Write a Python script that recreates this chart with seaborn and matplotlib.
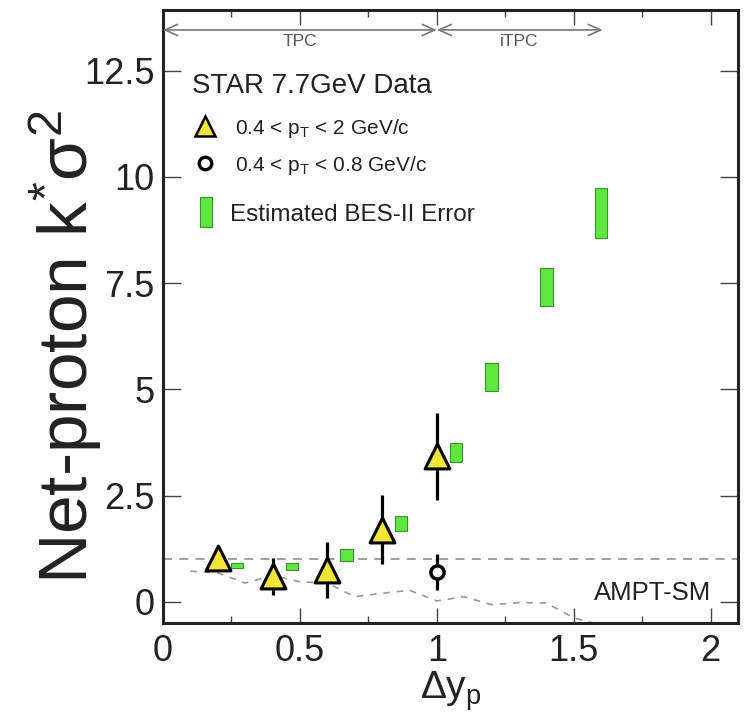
import matplotlib
matplotlib.use("Agg")
import matplotlib.pyplot as plt
import seaborn as sns
from matplotlib.lines import Line2D
from matplotlib.path import Path

# STAR 7.7 GeV net-proton kappa*sigma^2 vs rapidity window
dy = [0.2, 0.4, 0.6, 0.8, 1.0]
k_sig2 = [1.02, 0.60, 0.75, 1.70, 3.42]
k_err = [0.18, 0.43, 0.65, 0.82, 1.02]

# low-pT selection (only at dy = 1)
dy_low = [1.0]
k_low = [0.70]
k_low_err = [0.43]

# estimated BES-II errors
bes_x = [0.27, 0.47, 0.67, 0.87, 1.07, 1.2, 1.4, 1.6]
bes_y = [0.85, 0.83, 1.10, 1.85, 3.52, 5.28, 7.41, 9.16]
bes_err = [0.06, 0.09, 0.14, 0.18, 0.22, 0.33, 0.44, 0.59]

# AMPT-SM curve
ampt_x = [0.1, 0.2, 0.3, 0.4, 0.5, 0.6, 0.7, 0.8, 0.9, 1.0, 1.1, 1.2, 1.3, 1.4, 1.5, 1.6]
ampt_y = [0.72, 0.68, 0.44, 0.62, 0.47, 0.44, 0.12, 0.20, 0.27, 0.02, 0.12, -0.07, -0.02, -0.03, -0.38, -0.55]

xticks = [0, 0.5, 1, 1.5, 2]
xtick_labels = ["0", "0.5", "1", "1.5", "2"]
yticks = [0, 2.5, 5, 7.5, 10, 12.5]
ytick_labels = ["0", "2.5", "5", "7.5", "10", "12.5"]

sns.set_style("ticks")
plt.rcParams["font.family"] = ["Liberation Sans", "DejaVu Sans"]
plt.rcParams["mathtext.fontset"] = "custom"
plt.rcParams["mathtext.rm"] = "Liberation Sans"
plt.rcParams["mathtext.default"] = "regular"

yellow = "#f2e535"
green = "#5ee83e"
ink = "#222222"

fig = plt.figure(figsize=(7.46, 7.25), dpi=100)
ax = fig.add_axes([0.2185, 0.1407, 0.7708, 0.8455])

# reference line at 1 and AMPT
ax.axhline(1, color="#999999", ls="--", lw=1.3, dashes=(5, 4), zorder=1)
sns.lineplot(x=ampt_x, y=ampt_y, ax=ax, color="#999999", lw=1.2,
             linestyle="--", sort=False, zorder=1)
ax.lines[-1].set_dashes((4, 4))

# BES-II boxes
ax.bar(bes_x, [2 * e for e in bes_err], bottom=[y - e for y, e in zip(bes_y, bes_err)],
       width=0.045, color=green, edgecolor="#3c8f30", linewidth=0.8, zorder=2)

# error bars then markers
ax.errorbar(dy, k_sig2, yerr=k_err, fmt="none", ecolor="black", elinewidth=2.3, capsize=0, zorder=3)
ax.errorbar(dy_low, k_low, yerr=k_low_err, fmt="none", ecolor="black", elinewidth=2.3, capsize=0, zorder=3)
sns.scatterplot(x=dy, y=k_sig2, ax=ax, marker="^", s=320, color=yellow,
                edgecolor="black", linewidth=2.2, zorder=5)
sns.scatterplot(x=dy_low, y=k_low, ax=ax, marker="o", s=90, color="white",
                edgecolor="black", linewidth=2.5, zorder=5)

ax.set_xlim(0, 2.1)
ax.set_ylim(-0.5, 13.93)
ax.set_xticks(xticks)
ax.set_xticklabels(xtick_labels)
ax.set_xticks([0.25, 0.75, 1.25, 1.75], minor=True)
ax.set_yticks(yticks)
ax.set_yticklabels(ytick_labels)

for s in ax.spines.values():
    s.set_linewidth(2.2)
    s.set_color(ink)
ax.tick_params(which="both", direction="in", top=True, right=True, color="#444444",
               width=1.0, labelcolor=ink, labelsize=26)
ax.tick_params(axis="x", which="major", length=10.5, pad=8)
ax.tick_params(axis="x", which="minor", length=5)
ax.tick_params(axis="y", which="major", length=13, pad=6)

ax.set_ylabel("Net-proton k$^{*}$σ$^{2}$", fontsize=50, color=ink, va="center")
ax.yaxis.set_label_coords(-0.17, 0.45)
ax.set_xlabel("Δy$_{p}$", fontsize=28, color=ink, labelpad=0)

# TPC / iTPC acceptance arrows
arrow = dict(arrowstyle="<->,head_length=0.9,head_width=0.4", color="#777777", lw=1.2,
             shrinkA=0, shrinkB=0)
ax.annotate("", xy=(0, 13.46), xytext=(1, 13.46), arrowprops=arrow)
ax.annotate("", xy=(1, 13.46), xytext=(1.606, 13.46), arrowprops=arrow)
ax.text(0.5, 13.2, "TPC", ha="center", va="center", fontsize=12.5, color="#555555")
ax.text(1.3, 13.2, "iTPC", ha="center", va="center", fontsize=12.5, color="#555555")

ax.text(0.106, 12.14, "STAR 7.7GeV Data", ha="left", va="center", fontsize=20, color=ink)
ax.text(2.003, 0.21, "AMPT-SM", ha="right", va="center", fontsize=18.5, color=ink)

# legends
h_tri = Line2D([], [], ls="none", marker="^", ms=14, mfc=yellow, mec="black", mew=1.8)
h_circ = Line2D([], [], ls="none", marker="o", ms=9, mfc="white", mec="black", mew=2.4)
leg1 = ax.legend([h_tri, h_circ],
                 ["0.4 < p$_{T}$ < 2 GeV/c", "0.4 < p$_{T}$ < 0.8 GeV/c"],
                 loc="center left", bbox_to_anchor=(0.0504, 0.777), frameon=False,
                 fontsize=15, borderpad=0, borderaxespad=0, handlelength=1.25,
                 handletextpad=0.8, labelspacing=0.68, labelcolor=ink)
ax.add_artist(leg1)

box = Path([(-0.2, -0.5), (0.2, -0.5), (0.2, 0.5), (-0.2, 0.5), (-0.2, -0.5)],
           [Path.MOVETO, Path.LINETO, Path.LINETO, Path.LINETO, Path.CLOSEPOLY])
h_box = Line2D([], [], ls="none", marker=box, ms=21, mfc=green, mec="#3c8f30", mew=0.8)
ax.legend([h_box], ["Estimated BES-II Error"], loc="center left",
          bbox_to_anchor=(0.0504, 0.666), frameon=False, fontsize=17.5, borderpad=0,
          borderaxespad=0, handlelength=1.15, handletextpad=0.4, labelcolor=ink)

fig.savefig("out.png", dpi=100)
